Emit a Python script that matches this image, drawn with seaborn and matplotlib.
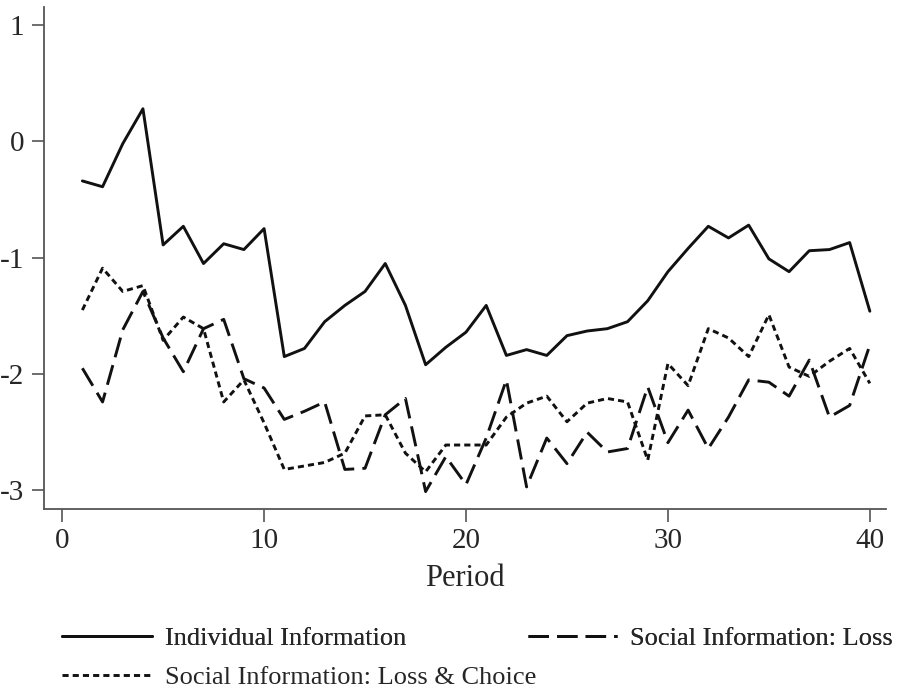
import numpy as np
import pandas as pd
import matplotlib
matplotlib.use("Agg")
import matplotlib.pyplot as plt
import seaborn as sns

periods = list(range(1, 41))
individual = [-0.34, -0.39, -0.02, 0.28, -0.89, -0.73, -1.05, -0.88, -0.93, -0.75,
              -1.85, -1.78, -1.55, -1.41, -1.29, -1.05, -1.41, -1.92, -1.77, -1.64,
              -1.41, -1.84, -1.79, -1.84, -1.67, -1.63, -1.61, -1.55, -1.37, -1.12,
              -0.92, -0.73, -0.83, -0.72, -1.01, -1.12, -0.94, -0.93, -0.87, -1.46]
social_loss = [-1.95, -2.24, -1.62, -1.29, -1.69, -1.98, -1.61, -1.53, -2.04, -2.12,
               -2.39, -2.32, -2.24, -2.82, -2.81, -2.35, -2.21, -3.01, -2.71, -2.95,
               -2.55, -2.05, -2.97, -2.55, -2.77, -2.50, -2.67, -2.64, -2.11, -2.59,
               -2.31, -2.64, -2.37, -2.05, -2.07, -2.19, -1.88, -2.37, -2.27, -1.75]
social_loss_choice = [-1.45, -1.09, -1.29, -1.24, -1.71, -1.51, -1.61, -2.24, -2.05, -2.42,
                      -2.82, -2.79, -2.76, -2.68, -2.36, -2.35, -2.68, -2.84, -2.61, -2.61,
                      -2.61, -2.37, -2.25, -2.19, -2.41, -2.25, -2.21, -2.24, -2.74, -1.91,
                      -2.10, -1.61, -1.69, -1.85, -1.49, -1.94, -2.02, -1.89, -1.78, -2.08]
labels = ["Individual Information", "Social Information: Loss",
          "Social Information: Loss & Choice"]
x_ticks = [0, 10, 20, 30, 40]
y_ticks = [1, 0, -1, -2, -3]

df = pd.concat([
    pd.DataFrame({"Period": periods, "value": individual, "series": labels[0]}),
    pd.DataFrame({"Period": periods, "value": social_loss, "series": labels[1]}),
    pd.DataFrame({"Period": periods, "value": social_loss_choice, "series": labels[2]}),
])

sns.set_style("white")
plt.rcParams["font.family"] = ["Liberation Serif", "DejaVu Serif"]
plt.rcParams["axes.unicode_minus"] = False

fig = plt.figure(figsize=(8.98, 6.88), dpi=100)
ax = fig.add_axes([44/898, 1-509/688, (886-44)/898, (509-7)/688])

dash_map = {labels[0]: "", labels[1]: (7, 2.8), labels[2]: (2.1, 1.4)}
sns.lineplot(data=df, x="Period", y="value", style="series", style_order=labels,
             dashes=dash_map, color="#111111", linewidth=2.1, ax=ax, legend=True)

handles, lbls = ax.get_legend_handles_labels()
ax.get_legend().remove()
hmap = dict(zip(lbls, handles))

ax.set_xlim(-0.9, 40.8)
ax.set_ylim(-3.16, 1.155)
ax.set_xticks(x_ticks)
ax.set_yticks(y_ticks)
ax.set_xticklabels([str(t) for t in x_ticks])
ax.set_yticklabels([str(t) for t in y_ticks])
ax.set_xlabel("Period", fontsize=22, labelpad=7)
ax.set_ylabel("")
for s in ["top", "right"]:
    ax.spines[s].set_visible(False)
for s in ["left", "bottom"]:
    ax.spines[s].set_color("#555555")
    ax.spines[s].set_linewidth(1.3)
ax.tick_params(axis="both", direction="out", length=9, width=1.2, color="#555555",
               labelsize=21, pad=5, left=True, bottom=True)

leg1 = fig.legend([hmap[labels[0]], hmap[labels[1]]], [labels[0], labels[1]],
                  ncol=2, loc="center left", bbox_to_anchor=(62/898, 1-638/688),
                  frameon=False, fontsize=19, handlelength=3.4, handletextpad=0.5,
                  columnspacing=4.6, borderaxespad=0, borderpad=0)
leg2 = fig.legend([hmap[labels[2]]], [labels[2]],
                  loc="center left", bbox_to_anchor=(62/898, 1-677/688),
                  frameon=False, fontsize=19, handlelength=3.4, handletextpad=0.5,
                  borderaxespad=0, borderpad=0)
fig.add_artist(leg1)

fig.savefig("out.png", dpi=100)
